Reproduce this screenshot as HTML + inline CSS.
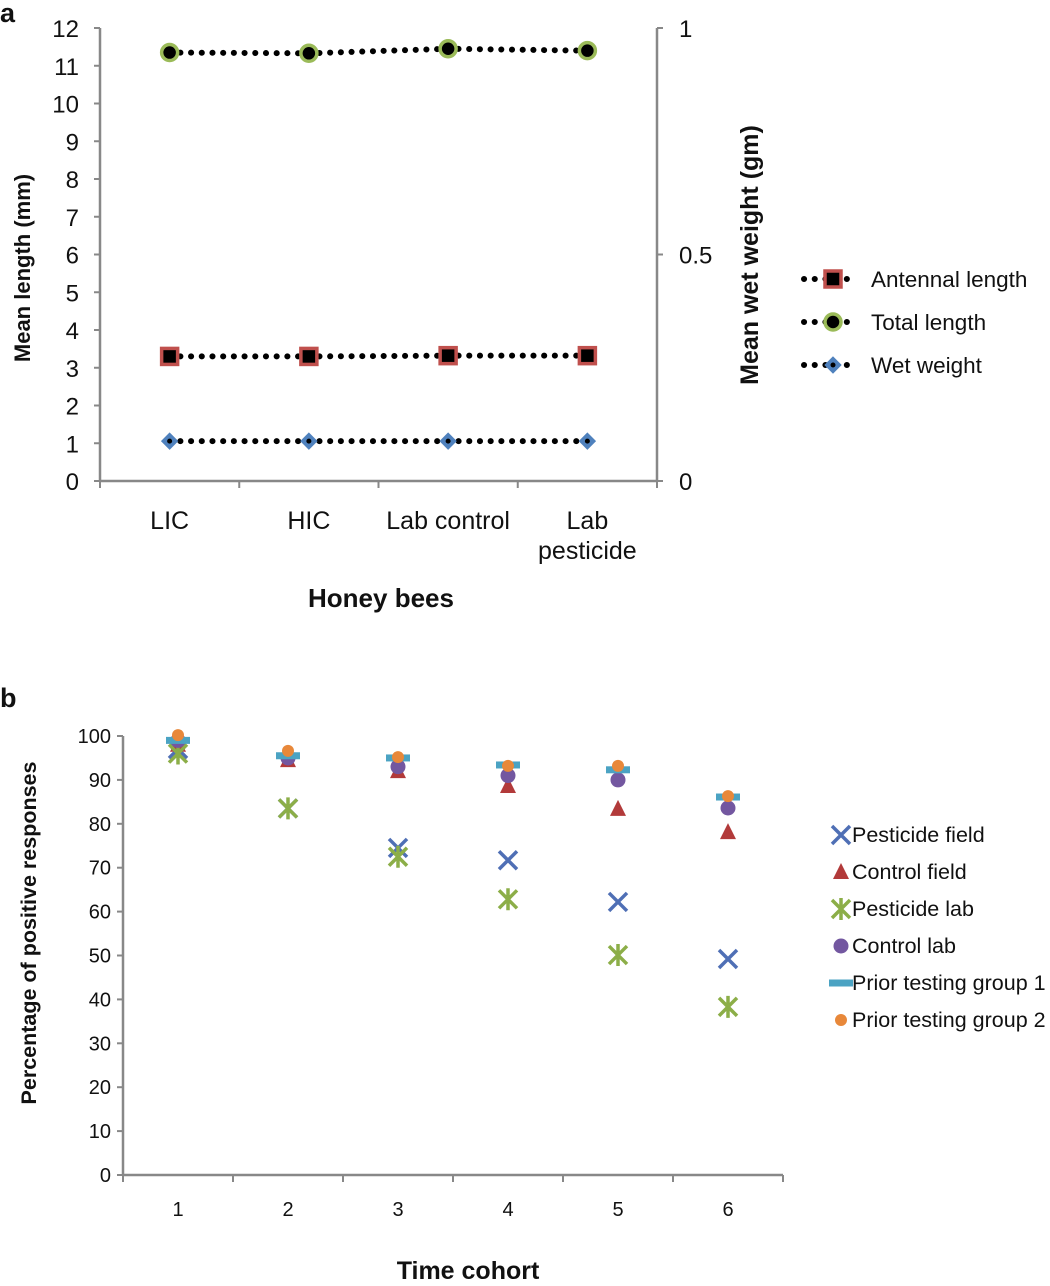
<!DOCTYPE html>
<html><head><meta charset="utf-8"><style>
body{margin:0;background:#fff;font-family:"Liberation Sans",Arial,sans-serif}
svg text{font-family:"Liberation Sans",Arial,sans-serif;fill:#111}
</style></head><body>
<svg id="s" width="1050" height="1281" viewBox="0 0 1050 1281">
<text x="0" y="22" font-size="27" font-weight="bold">a</text>
<text x="0" y="707" font-size="27" font-weight="bold">b</text>
<g id="a"></g>
<g id="b"></g>
</svg>
<script>
const NS='http://www.w3.org/2000/svg';
function mk(p,t,a,txt){const e=document.createElementNS(NS,t);for(const k in a)e.setAttribute(k,a[k]);if(txt!==undefined)e.textContent=txt;p.appendChild(e);return e;}
// ---- Chart a data
const aCats=['LIC','HIC','Lab control','Lab pesticide'];
const aTotal=[11.35,11.33,11.45,11.4];
const aAntennal=[3.3,3.3,3.32,3.32];
const aWet=[0.088,0.088,0.088,0.088];
const aLeftTicks=[0,1,2,3,4,5,6,7,8,9,10,11,12];
const aRightTicks=[0,0.5,1];
// ---- Chart b data
const bCats=[1,2,3,4,5,6];
const bPestField=[97,83.5,74.5,71.7,62.2,49.2];
const bCtrlField=[98,94.5,92,88.6,83.4,78.1];
const bPestLab=[96,83.5,72.5,62.8,50.1,38.3];
const bCtrlLab=[99,95,93,91,90,83.6];
const bPrior1=[99,95.5,95,93.4,92.3,86.1];
const bPrior2=[100.2,96.6,95.2,93.2,93.2,86.3];
const bTicks=[0,10,20,30,40,50,60,70,80,90,100];

const A=document.getElementById('a');
const ax0=100,ax1=657,ay0=481,ay1=28;
const ayL=v=>ay0-(v/12)*(ay0-ay1);
const ayR=v=>ay0-v*(ay0-ay1);
const axC=i=>ax0+(i+0.5)*(ax1-ax0)/aCats.length;
mk(A,'line',{x1:ax0,y1:ay1,x2:ax0,y2:ay0,stroke:'#888','stroke-width':2.5});
mk(A,'line',{x1:ax1,y1:ay1,x2:ax1,y2:ay0,stroke:'#888','stroke-width':2.5});
mk(A,'line',{x1:ax0,y1:ay0,x2:ax1,y2:ay0,stroke:'#888','stroke-width':2.5});
aLeftTicks.forEach(v=>{const y=ayL(v);mk(A,'line',{x1:ax0-6,y1:y,x2:ax0,y2:y,stroke:'#888','stroke-width':2});
const t=mk(A,'text',{x:ax0-21,y:y+9,'font-size':24,'text-anchor':'end'},v);});
aRightTicks.forEach(v=>{const y=ayR(v);mk(A,'line',{x1:ax1,y1:y,x2:ax1+6,y2:y,stroke:'#888','stroke-width':2});
const t=mk(A,'text',{x:ax1+22,y:y+9,'font-size':24},v);});
for(let i=0;i<=aCats.length;i++){const x=ax0+i*(ax1-ax0)/aCats.length;mk(A,'line',{x1:x,y1:ay0,x2:x,y2:ay0+7,stroke:'#888','stroke-width':2});}
aCats.forEach((c,i)=>{const x=axC(i);
if(c==='Lab pesticide'){mk(A,'text',{x:x,y:529,'font-size':25,'text-anchor':'middle'},'Lab');mk(A,'text',{x:x,y:559,'font-size':25,'text-anchor':'middle'},'pesticide');}
else{const t=mk(A,'text',{x:x,y:529,'font-size':25,'text-anchor':'middle'},c);}});
let t=mk(A,'text',{x:381,y:607,'font-size':26,'font-weight':'bold','text-anchor':'middle'},'Honey bees');
t=mk(A,'text',{x:30,y:268,'font-size':22,'font-weight':'bold','text-anchor':'middle',transform:'rotate(-90 30 268)'},'Mean length (mm)');
t=mk(A,'text',{x:758,y:255,'font-size':25,'font-weight':'bold','text-anchor':'middle',transform:'rotate(-90 758 255)'},'Mean wet weight (gm)');
function dotLine(g,pts){mk(g,'polyline',{points:pts.map(p=>p.join(',')).join(' '),fill:'none',stroke:'#000','stroke-width':6,'stroke-dasharray':'0.1 10.6','stroke-linecap':'round'});}
function sq(g,x,y){mk(g,'rect',{x:x-8,y:y-8,width:16,height:16,fill:'#000',stroke:'#c0504d','stroke-width':3.5});}
function circ(g,x,y){mk(g,'circle',{cx:x,cy:y,r:8,fill:'#000',stroke:'#9bbb59','stroke-width':3.5});}
function dia(g,x,y){mk(g,'path',{d:`M${x},${y-8}L${x+8},${y}L${x},${y+8}L${x-8},${y}Z`,fill:'#4f81bd',stroke:'#4f81bd','stroke-width':1});mk(g,'circle',{cx:x,cy:y,r:2.5,fill:'#000'});}
const gT=mk(A,'g',{});
dotLine(gT,aTotal.map((v,i)=>[axC(i),ayL(v)]));aTotal.forEach((v,i)=>circ(gT,axC(i),ayL(v)));
const gA=mk(A,'g',{});
dotLine(gA,aAntennal.map((v,i)=>[axC(i),ayL(v)]));aAntennal.forEach((v,i)=>sq(gA,axC(i),ayL(v)));
const gW=mk(A,'g',{});
dotLine(gW,aWet.map((v,i)=>[axC(i),ayR(v)]));aWet.forEach((v,i)=>dia(gW,axC(i),ayR(v)));
[['Antennal length',sq,279],['Total length',circ,322],['Wet weight',dia,365]].forEach(([n,f,y])=>{const g=mk(A,'g',{});
dotLine(g,[[804,y],[855,y]]);f(g,833,y);mk(g,'text',{x:871,y:y+8,'font-size':22.5},n);});

// ---- Chart b
const B=document.getElementById('b');
const bx0=123,bx1=783,by0=1175,by1=736;
const byV=v=>by0-(v/100)*(by0-by1);
const bxC=c=>bx0+(c-0.5)*(bx1-bx0)/6;
mk(B,'line',{x1:bx0,y1:by1,x2:bx0,y2:by0,stroke:'#888','stroke-width':2.5});
mk(B,'line',{x1:bx0,y1:by0,x2:bx1,y2:by0,stroke:'#888','stroke-width':2.5});
bTicks.forEach(v=>{const y=byV(v);mk(B,'line',{x1:bx0-6,y1:y,x2:bx0,y2:y,stroke:'#888','stroke-width':2});
const tt=mk(B,'text',{x:bx0-12,y:y+7,'font-size':20,'text-anchor':'end'},v);});
for(let i=0;i<=6;i++){const x=bx0+i*110;mk(B,'line',{x1:x,y1:by0,x2:x,y2:by0+7,stroke:'#888','stroke-width':2});}
bCats.forEach(c=>{const tt=mk(B,'text',{x:bxC(c),y:1216,'font-size':20,'text-anchor':'middle'},c);});
t=mk(B,'text',{x:468,y:1279,'font-size':25,'font-weight':'bold','text-anchor':'middle'},'Time cohort');
t=mk(B,'text',{x:36,y:933,'font-size':21.5,'font-weight':'bold','text-anchor':'middle',transform:'rotate(-90 36 933)'},'Percentage of positive responses');
const mX=(g,x,y)=>{mk(g,'path',{d:`M${x-9},${y-9}L${x+9},${y+9}M${x+9},${y-9}L${x-9},${y+9}`,stroke:'#4f6fb5','stroke-width':3.5});};
const mT=(g,x,y)=>{mk(g,'path',{d:`M${x},${y-9}L${x+8},${y+7}L${x-8},${y+7}Z`,fill:'#b23a3a'});};
const mS=(g,x,y)=>{mk(g,'path',{d:`M${x-9},${y-9}L${x+9},${y+9}M${x+9},${y-9}L${x-9},${y+9}M${x},${y-11}L${x},${y+11}`,stroke:'#8cae48','stroke-width':3.5});};
const mC=(g,x,y)=>{mk(g,'circle',{cx:x,cy:y,r:7.5,fill:'#7357a0'});};
const mD=(g,x,y)=>{mk(g,'rect',{x:x-12,y:y-3.5,width:24,height:7,fill:'#4ba3c3'});};
const mO=(g,x,y)=>{mk(g,'circle',{cx:x,cy:y,r:6,fill:'#e8883a'});};
const series=[['Pesticide field',bPestField,mX],['Control field',bCtrlField,mT],['Pesticide lab',bPestLab,mS],['Control lab',bCtrlLab,mC],['Prior testing group 1',bPrior1,mD],['Prior testing group 2',bPrior2,mO]];
series.forEach(([n,d,f])=>{const g=mk(B,'g',{});
d.forEach((v,i)=>f(g,bxC(bCats[i]),byV(v)));});
series.forEach(([n,d,f],i)=>{const y=835+i*37;const g=mk(B,'g',{});
f(g,841,y);mk(g,'text',{x:852,y:y+7,'font-size':21.5},n);});
</script>
</body></html>
